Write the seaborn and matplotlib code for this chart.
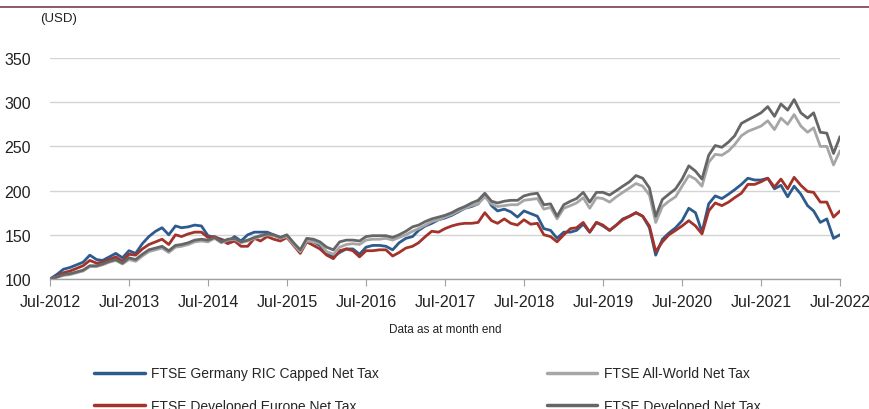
import pandas as pd
import numpy as np
import matplotlib
matplotlib.use("Agg")
import matplotlib.pyplot as plt
from matplotlib.lines import Line2D
import seaborn as sns

# monthly values, rebased to 100 at Jul-2012
germany = [100, 105, 111, 113, 116, 119, 127, 122, 121, 125, 129, 124, 132,
           129, 140, 148, 154, 158, 150, 160, 158, 159, 161, 160, 149,
           147, 145, 142, 148, 143, 150, 153, 153, 153, 150, 147, 149,
           140, 131, 145, 142, 138, 128, 125, 130, 134, 134, 128, 136,
           138, 138, 137, 133, 141, 146, 148, 155, 160, 163, 167, 169,
           172, 176, 180, 182, 185, 196, 183, 177, 179, 176, 170, 177,
           174, 171, 157, 155, 146, 153, 153, 155, 162, 153, 164, 160,
           155, 161, 168, 171, 175, 171, 158, 127, 145, 152, 158, 166,
           180, 175, 153, 185, 194, 191, 196, 201, 207, 214, 212, 212,
           214, 202, 206, 193, 205, 196, 183, 177, 164, 168, 146, 150]

europe = [100, 103, 107, 109, 112, 115, 121, 118, 119, 122, 125, 120, 128,
          127, 134, 139, 142, 145, 139, 150, 148, 151, 153, 153, 147,
          148, 144, 140, 143, 137, 137, 146, 143, 148, 145, 143, 147,
          138, 129, 142, 138, 134, 127, 123, 132, 134, 132, 125, 132,
          132, 133, 133, 126, 130, 135, 137, 141, 148, 154, 153, 157,
          160, 162, 163, 163, 164, 175, 166, 163, 168, 163, 161, 167,
          162, 163, 150, 148, 142, 150, 157, 158, 164, 153, 164, 161,
          155, 161, 167, 171, 175, 171, 160, 131, 142, 150, 155, 160,
          166, 160, 151, 177, 186, 183, 187, 192, 197, 207, 207, 210,
          214, 204, 213, 202, 215, 206, 199, 198, 187, 187, 170, 177]

all_world = [100, 102, 104, 105, 107, 109, 114, 114, 116, 119, 121, 117, 122,
             120, 126, 131, 133, 135, 130, 136, 137, 139, 142, 143, 142,
             146, 141, 144, 145, 141, 143, 146, 148, 150, 149, 146, 148,
             139, 131, 143, 142, 140, 131, 128, 136, 139, 140, 139, 144,
             145, 145, 146, 144, 147, 150, 154, 157, 161, 165, 167, 170,
             173, 177, 180, 183, 185, 193, 185, 182, 183, 184, 184, 189,
             190, 191, 179, 181, 168, 180, 183, 186, 192, 180, 192, 191,
             187, 193, 198, 203, 208, 205, 195, 164, 182, 188, 193, 205,
             217, 213, 205, 232, 241, 240, 245, 252, 262, 267, 270, 273,
             279, 269, 282, 275, 286, 273, 266, 271, 250, 250, 229, 245]

developed = [100, 102, 105, 106, 108, 110, 115, 115, 117, 120, 122, 118, 124,
             122, 128, 133, 135, 137, 132, 138, 139, 141, 144, 145, 144,
             147, 142, 145, 146, 142, 144, 147, 149, 151, 150, 147, 150,
             141, 133, 146, 145, 142, 136, 133, 142, 144, 144, 143, 148,
             149, 149, 149, 147, 150, 154, 159, 161, 165, 168, 170, 172,
             175, 179, 182, 186, 189, 197, 188, 186, 188, 189, 189, 194,
             196, 197, 184, 185, 171, 184, 188, 191, 198, 187, 198, 198,
             195, 200, 205, 210, 217, 214, 203, 171, 190, 196, 202, 213,
             228, 222, 213, 240, 251, 249, 255, 262, 276, 280, 284, 288,
             295, 284, 298, 291, 303, 288, 282, 288, 266, 265, 242, 261]

series_names = ["FTSE Germany RIC Capped Net Tax", "FTSE Developed Europe Net Tax",
                "FTSE All-World Net Tax", "FTSE Developed Net Tax"]
colors = ["#2E5B8E", "#A3332A", "#A6A6A6", "#666666"]

dates = pd.date_range("2012-07-01", periods=121, freq="MS")
tick_dates = pd.date_range("2012-07-01", "2022-07-01", freq="12MS")

df = pd.DataFrame({"date": dates,
                   series_names[0]: germany,
                   series_names[1]: europe,
                   series_names[2]: all_world,
                   series_names[3]: developed})
long_df = df.melt(id_vars="date", var_name="index", value_name="value")

sns.set_style("white")
plt.rcParams["font.family"] = ["Liberation Sans", "DejaVu Sans"]

fig = plt.figure(figsize=(8.7, 4.1), dpi=100)
ax = fig.add_axes([50 / 870, 1 - 280 / 410, 790 / 870, 221 / 410])

sns.lineplot(data=long_df, x="date", y="value", hue="index", hue_order=series_names,
             palette=colors, linewidth=2, legend=False, ax=ax)

ax.set_xlim(dates[0], dates[-1])
ax.set_ylim(100, 350)
ax.set_yticks([100, 150, 200, 250, 300, 350])
ax.set_xticks(tick_dates)
ax.set_xticklabels([d.strftime("%b-%Y") for d in tick_dates])
ax.grid(axis="y", color="#D4D4D4", linewidth=1)
ax.set_axisbelow(True)
for s in ["left", "right", "top"]:
    ax.spines[s].set_visible(False)
ax.spines["bottom"].set_color("#A0A0A0")
ax.spines["bottom"].set_linewidth(1)
ax.tick_params(axis="x", bottom=True, length=5, color="#A0A0A0", pad=6, labelsize=11.5, labelcolor="#222222")
ax.tick_params(axis="y", left=False, pad=10, labelsize=11.5, labelcolor="#222222")
ax.set_xlabel("Data as at month end", fontsize=8.5, color="#222222", labelpad=10)
ax.set_ylabel("")

fig.text(40 / 870, 1 - 19 / 410, "(USD)", fontsize=9.5, color="#222222", va="center")
fig.add_artist(Line2D([0, 1], [1 - 8 / 410, 1 - 8 / 410], color="#7B3B55", linewidth=1.2))

# legend: two columns at the bottom
h = [Line2D([], [], color=c, linewidth=2.5) for c in colors]
fig.legend(h[:2], series_names[:2], loc="upper left", bbox_to_anchor=(82 / 870, 1 - 355 / 410),
           frameon=False, fontsize=10, handlelength=3.6, handletextpad=0.5, labelspacing=1.35)
fig.legend(h[2:], series_names[2:], loc="upper left", bbox_to_anchor=(535 / 870, 1 - 355 / 410),
           frameon=False, fontsize=10, handlelength=3.6, handletextpad=0.5, labelspacing=1.35)

plt.savefig("out.png", dpi=100)
